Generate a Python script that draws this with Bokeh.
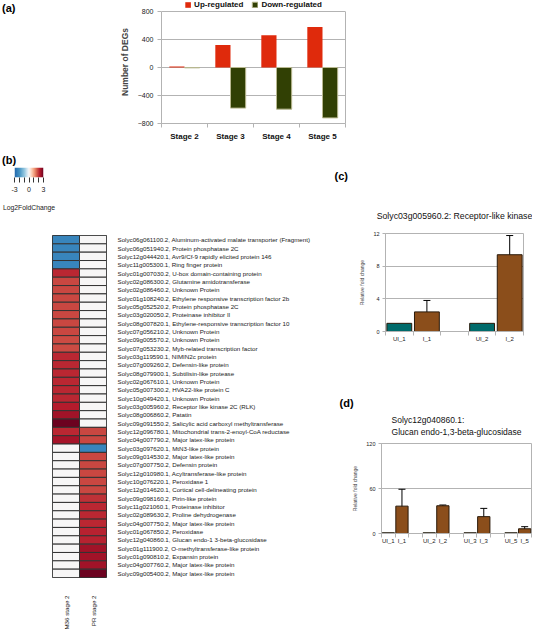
import numpy as np
from bokeh.plotting import figure
from bokeh.layouts import column, row
from bokeh.models import (ColumnDataSource, FactorRange, Range1d, FixedTicker, Legend,
                          LegendItem, LinearColorMapper, Whisker, TeeHead, Div, LinearAxis, Title)
from bokeh.transform import transform, dodge
from bokeh.embed import file_html
from bokeh.resources import INLINE

# ---------------- data: panel (a)
stages = ["Stage 2", "Stage 3", "Stage 4", "Stage 5"]
up_regulated = [15, 320, 460, 580]
down_regulated = [-5, -580, -595, -720]
a_yticks = [-800, -400, 0, 400, 800]

# ---------------- data: panel (b)
heat_columns = ["M36 stage 2", "PR stage 2"]
genes = [
    "Solyc06g061100.2, Aluminum-activated malate transporter (Fragment)",
    "Solyc06g051940.2, Protein phosphatase 2C",
    "Solyc12g044420.1, Avr9/Cf-9 rapidly elicited protein 146",
    "Solyc11g005300.1, Ring finger protein",
    "Solyc01g007030.2, U-box domain-containing protein",
    "Solyc02g086300.2, Glutamine amidotransferase",
    "Solyc02g086460.2, Unknown Protein",
    "Solyc01g108240.2, Ethylene responsive transcription factor 2b",
    "Solyc05g052520.2, Protein phosphatase 2C",
    "Solyc03g020050.2, Proteinase inhibitor II",
    "Solyc08g007820.1, Ethylene-responsive transcription factor 10",
    "Solyc07g056210.2, Unknown Protein",
    "Solyc09g005570.2, Unknown Protein",
    "Solyc07g053230.2, Myb-related transcription factor",
    "Solyc03g119590.1, NIMIN2c protein",
    "Solyc07g009260.2, Defensin-like protein",
    "Solyc08g079900.1, Subtilisin-like protease",
    "Solyc02g067610.1, Unknown Protein",
    "Solyc05g007300.2, HVA22-like protein C",
    "Solyc10g049420.1, Unknown Protein",
    "Solyc03g005960.2, Receptor like kinase 2C (RLK)",
    "Solyc08g006860.2, Patatin",
    "Solyc09g091550.2, Salicylic acid carboxyl methyltransferase",
    "Solyc12g096780.1, Mitochondrial trans-2-enoyl-CoA reductase",
    "Solyc04g007790.2, Major latex-like protein",
    "Solyc03g097620.1, MtN3-like protein",
    "Solyc09g014530.2, Major latex-like protein",
    "Solyc07g007750.2, Defensin protein",
    "Solyc12g010980.1, Acyltransferase-like protein",
    "Solyc10g076220.1, Peroxidase 1",
    "Solyc12g014620.1, Cortical cell-delineating protein",
    "Solyc09g098160.2, Pirin-like protein",
    "Solyc11g021060.1, Proteinase inhibitor",
    "Solyc02g089630.2, Proline dehydrogenase",
    "Solyc04g007750.2, Major latex-like protein",
    "Solyc01g067850.2, Peroxidase",
    "Solyc12g040860.1, Glucan endo-1 3-beta-glucosidase",
    "Solyc01g111900.2, O-methyltransferase-like protein",
    "Solyc01g090810.2, Expansin protein",
    "Solyc04g007760.2, Major latex-like protein",
    "Solyc09g005400.2, Major latex-like protein",
]
m36_stage2 = [-2.3, -2.3, -2.3, -2.3, 2.15, 1.85, 1.85, 1.85, 1.85, 1.85, 1.85, 1.85,
              1.8, 1.8, 2.15, 2.15, 2.15, 2.15, 2.15, 2.15, 2.25, 2.45, 2.95, 2.15, 2.4,
              0, 0, 0, 0, 0, 0, 0, 0, 0, 0, 0, 0, 0, 0, 0, 0]
pr_stage2 = [0, 0, 0, 0, 0, 0, 0, 0, 0, 0, 0, 0, 0, 0, 0, 0, 0, 0, 0, 0, 0, 0, 0,
             1.85, 1.85, -2.3, 1.85, 1.85, 1.85, 1.85, 1.85, 2.05, 2.15, 2.15, 2.15,
             2.2, 2.2, 2.45, 2.45, 2.45, 2.95]
cb_ticks = [-3, -2, -1, 0, 1, 2, 3]
cb_tick_labels = ["-3", "", "", "0", "", "", "3"]

# ---------------- data: panel (c)
c_title = "Solyc03g005960.2: Receptor-like kinase"
c_labels = ["UI_1", "I_1", "UI_2", "I_2"]
c_values = [1.0, 2.4, 1.0, 9.4]
c_errors = [0, 1.4, 0, 2.35]
c_yticks = [0, 4, 8, 12]

# ---------------- data: panel (d)
d_title = ["Solyc12g040860.1:", "Glucan endo-1,3-beta-glucosidase"]
d_labels = ["UI_1", "I_1", "UI_2", "I_2", "UI_3", "I_3", "UI_5", "I_5"]
d_values = [1.0, 36.5, 1.0, 37.0, 1.0, 22.5, 1.0, 6.3]
d_errors = [0, 22.5, 0, 1.0, 0, 11.0, 0, 2.8]
d_yticks = [0, 60, 120]

# ---------------- styles
FONT = "Liberation Sans"
GRID = "#b3b3b3"
RED = "#df2a0c"
GREEN = "#314004"
TEAL = "#006b6b"
BROWN = "#8b4e1b"
COMMON = dict(toolbar_location=None, output_backend="svg", frame_align=False)


def interp_palette(anchors, n=256):
    vals = np.array([a[0] for a in anchors], dtype=float)
    rgb = np.array([[int(c[i:i + 2], 16) for i in (1, 3, 5)] for _, c in anchors], dtype=float)
    xs = np.linspace(vals[0], vals[-1], n)
    out = []
    for x in xs:
        r, g, b = (np.interp(x, vals, rgb[:, k]) for k in range(3))
        out.append("#%02x%02x%02x" % (int(round(r)), int(round(g)), int(round(b))))
    return out


anchors = [(-3, "#2166ac"), (-2, "#4393c3"), (-1, "#92c5de"), (-0.4, "#d1e5f0"), (0, "#f7f7f7"),
           (0.4, "#fddbc7"), (1.0, "#f4a582"), (1.6, "#d6604d"), (2.3, "#b2182b"), (3, "#67001f")]
mapper = LinearColorMapper(palette=interp_palette(anchors), low=cb_ticks[0], high=cb_ticks[-1])


def letter(text, width, height, top=0, left=0):
    html = ('<div style="font-family:\'Liberation Sans\';font-weight:bold;font-size:11px;'
            'color:#000;margin-top:%dpx;margin-left:%dpx;line-height:11px">%s</div>' % (top, left, text))
    return Div(text=html, width=width, height=height, margin=0)


def style_letter_title(p, offset, standoff):
    p.title.text_font = FONT
    p.title.text_font_size = "11px"
    p.title.text_font_style = "bold"
    p.title.text_color = "black"
    p.title.align = "left"
    p.title.offset = offset
    p.title.standoff = standoff


def add_text_title(p, text, size, standoff, offset):
    p.add_layout(Title(text=text, text_font=FONT, text_font_size=size, text_font_style="normal",
                       text_color="#111111", text_line_height=1.15, align="center",
                       offset=offset, standoff=standoff), "above")


def slot_positions(labels, per_group=2, gap=1):
    xs = []
    for i, _ in enumerate(labels):
        g, j = divmod(i, per_group)
        xs.append(g * (per_group + gap) + j + 0.5)
    return xs


def overrides(xs, labels):
    ov = {}
    for x, l in zip(xs, labels):
        ov[float(x)] = l
        ov[str(x)] = l
    return ov


def style_small_axes(p, yticks, xs, labels, n_slots):
    p.xaxis.ticker = FixedTicker(ticks=xs, minor_ticks=list(range(n_slots + 1)))
    p.xaxis.major_label_overrides = overrides(xs, labels)
    p.xaxis.major_tick_out = 0
    p.xaxis.major_tick_in = 0
    p.xaxis.minor_tick_out = 4
    p.xaxis.minor_tick_in = 0
    p.xaxis.minor_tick_line_color = GRID
    p.xaxis.axis_line_color = GRID
    p.xaxis.major_label_text_font = FONT
    p.xaxis.major_label_text_font_size = "6px"
    p.xaxis.major_label_text_color = "#222222"
    p.xaxis.major_label_standoff = 0
    p.yaxis.ticker = FixedTicker(ticks=yticks)
    p.yaxis.minor_tick_line_color = None
    p.yaxis.major_tick_out = 3
    p.yaxis.major_tick_in = 0
    p.yaxis.major_tick_line_color = GRID
    p.yaxis.axis_line_color = GRID
    p.yaxis.major_label_text_font = FONT
    p.yaxis.major_label_text_font_size = "5.5px"
    p.yaxis.major_label_text_color = "#222222"
    p.yaxis.major_label_standoff = 3
    p.yaxis.axis_label = "Relative fold change"
    p.yaxis.axis_label_text_font = FONT
    p.yaxis.axis_label_text_font_size = "5px"
    p.yaxis.axis_label_text_font_style = "normal"
    p.yaxis.axis_label_standoff = 5
    p.xgrid.visible = False
    p.ygrid.grid_line_color = GRID
    p.outline_line_color = GRID


def add_bars(p, labels, values, errors):
    xs = slot_positions(labels)
    colors = [TEAL if l.startswith("UI") else BROWN for l in labels]
    src = ColumnDataSource(dict(x=xs, top=values, color=colors))
    p.vbar(x="x", top="top", bottom=0, width=0.9, source=src, fill_color="color",
           line_color="#2a1a0a", line_width=1)
    ex = [x for x, e in zip(xs, errors) if e > 0]
    eu = [v + e for v, e in zip(values, errors) if e > 0]
    el = [v - e for v, e in zip(values, errors) if e > 0]
    esrc = ColumnDataSource(dict(x=ex, upper=eu, lower=el))
    p.add_layout(Whisker(base="x", upper="upper", lower="lower", source=esrc, line_color="black",
                         line_width=1,
                         upper_head=TeeHead(size=7, line_color="black", line_width=1),
                         lower_head=TeeHead(size=7, line_color="black", line_width=1)))
    return xs


# ================= panel (a)
na = len(stages)
xa = [i + 0.5 for i in range(na)]
a_lo, a_hi = a_yticks[0], a_yticks[-1]
a_room = (a_hi - a_lo) * 11 / 112          # head room above the top grid line for the legend
pa = figure(width=432, height=152, x_range=Range1d(0, na), y_range=Range1d(a_lo, a_hi + a_room),
            min_border_left=61, min_border_right=187, min_border_top=0, min_border_bottom=29, **COMMON)
srca = ColumnDataSource(dict(x=xa, up=up_regulated, down=down_regulated))
bw = 0.33
r_up = pa.vbar(x=dodge("x", -bw / 2), top="up", bottom=0, width=bw, source=srca,
               fill_color=RED, line_color=None)
r_dn = pa.vbar(x=dodge("x", bw / 2), top=0, bottom="down", width=bw, source=srca,
               fill_color=GREEN, line_color="#b8b890", line_width=1)
pa.xaxis.ticker = FixedTicker(ticks=xa, minor_ticks=list(range(na + 1)))
pa.xaxis.major_label_overrides = overrides(xa, stages)
pa.xaxis.major_tick_out = 0
pa.xaxis.major_tick_in = 0
pa.xaxis.minor_tick_out = 4
pa.xaxis.minor_tick_in = 0
pa.xaxis.minor_tick_line_color = GRID
pa.xaxis.axis_line_color = GRID
pa.xaxis.major_label_text_font = FONT
pa.xaxis.major_label_text_font_size = "8px"
pa.xaxis.major_label_text_font_style = "bold"
pa.xaxis.major_label_text_color = "#111111"
pa.xaxis.major_label_standoff = 4
pa.yaxis.ticker = FixedTicker(ticks=a_yticks)
pa.yaxis.bounds = (a_lo, a_hi)
pa.yaxis.minor_tick_line_color = None
pa.yaxis.major_tick_out = 4
pa.yaxis.major_tick_in = 0
pa.yaxis.major_tick_line_color = GRID
pa.yaxis.axis_line_color = GRID
pa.yaxis.major_label_text_font = FONT
pa.yaxis.major_label_text_font_size = "7px"
pa.yaxis.major_label_text_color = "#222222"
pa.yaxis.major_label_standoff = 4
pa.yaxis.axis_label = "Number of DEGs"
pa.yaxis.axis_label_text_font = FONT
pa.yaxis.axis_label_text_font_size = "8.5px"
pa.yaxis.axis_label_text_font_style = "bold"
pa.yaxis.axis_label_standoff = 5
right_axis = LinearAxis(bounds=(a_lo, a_hi), ticker=FixedTicker(ticks=[]), axis_line_color=GRID,
                        major_tick_line_color=None, minor_tick_line_color=None,
                        major_label_text_alpha=0)
pa.add_layout(right_axis, "right")
pa.xgrid.visible = False
pa.ygrid.grid_line_color = GRID
pa.outline_line_color = None
legend = Legend(items=[LegendItem(label="Up-regulated", renderers=[r_up]),
                       LegendItem(label="Down-regulated", renderers=[r_dn])],
                orientation="horizontal", location="top_center", glyph_width=7, glyph_height=7,
                label_height=8, label_standoff=3, spacing=8, padding=0, margin=0,
                border_line_color=None, background_fill_alpha=0,
                label_text_font=FONT, label_text_font_size="8px", label_text_font_style="bold",
                label_text_color="#111111")
pa.add_layout(legend, "center")

# ================= panel (b): colour key
lo, hi = cb_ticks[0], cb_ticks[-1]
pcb = figure(width=330, height=56, x_range=Range1d(lo, hi), y_range=Range1d(0, 1),
             y_axis_location=None,
             min_border_left=14, min_border_right=287, min_border_top=1, min_border_bottom=45, **COMMON)
pcb.image(image=[np.linspace(lo, hi, 256)[None, :]], x=lo, y=0, dw=hi - lo, dh=1, color_mapper=mapper)
pcb.xaxis.ticker = FixedTicker(ticks=cb_ticks)
pcb.xaxis.major_label_overrides = {t: l for t, l in zip(cb_ticks, cb_tick_labels)}
pcb.xaxis.minor_tick_line_color = None
pcb.xaxis.axis_line_color = None
pcb.xaxis.major_tick_out = 5
pcb.xaxis.major_tick_in = 0
pcb.xaxis.major_tick_line_color = "#333333"
pcb.xaxis.major_label_text_font = FONT
pcb.xaxis.major_label_text_font_size = "7px"
pcb.xaxis.major_label_text_color = "#222222"
pcb.xaxis.major_label_standoff = 4
pcb.xaxis.axis_label = "Log2FoldChange"
pcb.xaxis.axis_label_text_font = FONT
pcb.xaxis.axis_label_text_font_size = "6.8px"
pcb.xaxis.axis_label_text_font_style = "normal"
pcb.xaxis.axis_label_text_color = "#222222"
pcb.xaxis.axis_label_standoff = 9
pcb.grid.visible = False
pcb.outline_line_color = None

# ================= panel (b): heatmap
ph = figure(width=330, height=410, x_range=FactorRange(*heat_columns),
            y_range=FactorRange(*genes[::-1]), y_axis_location="right",
            min_border_left=52, min_border_right=224, min_border_top=13, min_border_bottom=51, **COMMON)
ng = len(genes)
srch = ColumnDataSource(dict(col=[heat_columns[0]] * ng + [heat_columns[1]] * ng,
                             gene=genes + genes, val=m36_stage2 + pr_stage2))
ph.rect(x="col", y="gene", width=1, height=1, source=srch,
        fill_color=transform("val", mapper), line_color="#333333", line_width=1)
ph.outline_line_color = "#333333"
ph.grid.visible = False
for ax in (ph.xaxis, ph.yaxis):
    ax.axis_line_color = None
    ax.major_tick_line_color = None
    ax.minor_tick_line_color = None
    ax.major_label_text_font = FONT
    ax.major_label_text_font_size = "6.2px"
    ax.major_label_text_color = "#222222"
ph.yaxis.major_label_standoff = 5
ph.xaxis.major_label_standoff = 12
ph.xaxis.major_label_orientation = np.pi / 2

# ================= panel (c)
nc_slots = (len(c_labels) // 2) * 3 - 1
pc = figure(width=202, height=228, x_range=Range1d(0, nc_slots), y_range=Range1d(c_yticks[0], c_yticks[-1]),
            title="(c)",
            min_border_left=55, min_border_right=9, min_border_top=81, min_border_bottom=49, **COMMON)
style_letter_title(pc, -51, 27)
add_text_title(pc, c_title, "8.7px", 26, -6)
xc = add_bars(pc, c_labels, c_values, c_errors)
style_small_axes(pc, c_yticks, xc, c_labels, nc_slots)

# ================= panel (d)
nd_slots = (len(d_labels) // 2) * 3 - 1
pd_ = figure(width=202, height=220, x_range=Range1d(0, nd_slots), y_range=Range1d(d_yticks[0], d_yticks[-1]),
             title="(d)",
             min_border_left=51, min_border_right=1, min_border_top=63, min_border_bottom=67, **COMMON)
style_letter_title(pd_, -42, -6)
add_text_title(pd_, "\n".join(d_title), "8.5px", 14, -8)
xd = add_bars(pd_, d_labels, d_values, d_errors)
style_small_axes(pd_, d_yticks, xd, d_labels, nd_slots)

top = row(letter("(a)", 100, 152, top=2, left=2), pa)
left = column(letter("(b)", 330, 14, top=1, left=2), pcb, ph)
right = column(pc, pd_)
layout = column(top, row(left, right))
open("out.html", "w").write(file_html(layout, INLINE))
